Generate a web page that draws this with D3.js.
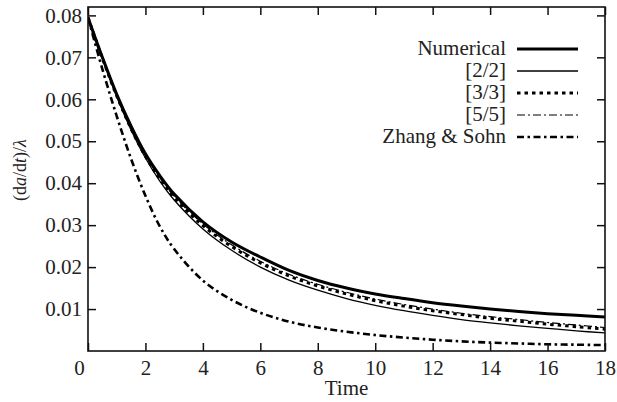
<!DOCTYPE html>
<html><head><meta charset="utf-8">
<script src="https://cdn.jsdelivr.net/npm/d3@7"></script>
<style>
body{margin:0;background:#fff;}
svg{display:block;}
</style></head>
<body>
<script>
const time = [0,0.5,1,1.5,2,2.5,3,4,5,6,7,8,9,10,11,12,13,14,15,16,17,18];
const numerical = [0.0795,0.0700,0.0612,0.0536,0.0470,0.0418,0.0374,0.0308,0.0260,0.0224,0.0192,0.0168,0.0150,0.0136,0.0125,0.0115,0.0107,0.0100,0.0094,0.0089,0.0085,0.0081];
const pade22 = [0.0795,0.0697,0.0606,0.0527,0.0460,0.0405,0.0360,0.0291,0.0240,0.0200,0.0169,0.0145,0.0125,0.0109,0.0096,0.0085,0.0075,0.0067,0.0060,0.0054,0.0048,0.0043];
const pade33 = [0.0795,0.0698,0.0608,0.0530,0.0464,0.0410,0.0366,0.0299,0.0249,0.0210,0.0179,0.0155,0.0136,0.0120,0.0107,0.0096,0.0087,0.0078,0.0071,0.0064,0.0058,0.0052];
const pade55 = [0.0795,0.0698,0.0609,0.0532,0.0466,0.0413,0.0369,0.0303,0.0253,0.0214,0.0183,0.0159,0.0140,0.0124,0.0111,0.0100,0.0090,0.0082,0.0075,0.0068,0.0062,0.0056];
const zhangSohn = [0.0795,0.0672,0.0560,0.0458,0.0370,0.0297,0.0243,0.0168,0.0122,0.0091,0.0070,0.0056,0.0046,0.0038,0.0032,0.0027,0.0023,0.0020,0.0018,0.0016,0.0015,0.0014];
const seriesNames = ["Numerical","[2/2]","[3/3]","[5/5]","Zhang & Sohn"];
const xTicks = [0,2,4,6,8,10,12,14,16,18];
const yTicks = [0.01,0.02,0.03,0.04,0.05,0.06,0.07,0.08];

const FONT="Liberation Serif, DejaVu Serif, serif";
const W=617,H=402;
const m={l:88,r:12,t:7,b:51};
const svg=d3.select("body").append("svg").attr("width",W).attr("height",H)
  .style("font-family",FONT);
const x=d3.scaleLinear().domain([0,18]).range([m.l,W-m.r]);
const y=d3.scaleLinear().domain([0,0.082]).range([H-m.b,m.t]);

const styles=[
  {w:3,dash:null},
  {w:1.3,dash:null},
  {w:3,dash:"3.5,4"},
  {w:1.2,dash:"8,3,2,3"},
  {w:2.6,dash:"7,3.5,2.5,3.5"}
];
const data=[numerical,pade22,pade33,pade55,zhangSohn];

const g=svg.append("g");
svg.append("clipPath").attr("id","c").append("rect")
  .attr("x",m.l).attr("y",m.t).attr("width",W-m.r-m.l).attr("height",H-m.b-m.t);
const line=d3.line().x((d,i)=>x(time[i])).y(d=>y(d)).curve(d3.curveCatmullRom.alpha(0.5));
data.forEach((s,k)=>{
  g.append("path").datum(s).attr("d",line).attr("fill","none")
   .attr("stroke","#000").attr("stroke-width",styles[k].w)
   .attr("stroke-dasharray",styles[k].dash).attr("clip-path","url(#c)");
});

const fs=21;
const axB=d3.axisBottom(x).tickValues(xTicks).tickSize(-8).tickPadding(9).tickFormat(d3.format("d"));
const axL=d3.axisLeft(y).tickValues(yTicks).tickSize(-8).tickPadding(6).tickFormat(d3.format(".2f"));
const axT=d3.axisTop(x).tickValues(xTicks).tickSize(-8).tickFormat("");
const axR=d3.axisRight(y).tickValues(yTicks).tickSize(-8).tickFormat("");
function styleAxis(sel){
  sel.attr("font-family",null).attr("font-size",null);
  sel.selectAll("path").remove();
  sel.selectAll("line").attr("stroke","#111").attr("stroke-width",1.5);
  sel.selectAll("text").style("font-family",FONT).style("font-size",fs+"px").attr("fill","#222");
}
const gB=svg.append("g").attr("transform",`translate(0,${H-m.b})`).call(axB).call(styleAxis);
gB.selectAll(".tick").filter(d=>d===0).select("text").attr("x",-9);
svg.append("g").attr("transform",`translate(${m.l},0)`).call(axL).call(styleAxis);
svg.append("g").attr("transform",`translate(0,${m.t})`).call(axT).call(styleAxis);
svg.append("g").attr("transform",`translate(${W-m.r},0)`).call(axR).call(styleAxis);

svg.append("rect").attr("x",m.l).attr("y",m.t).attr("width",W-m.r-m.l).attr("height",H-m.b-m.t)
  .attr("fill","none").attr("stroke","#111").attr("stroke-width",1.6);

svg.append("text").attr("x",(m.l+W-m.r)/2).attr("y",395).attr("text-anchor","middle")
  .style("font-family",FONT).style("font-size",fs+"px").attr("fill","#222").text("Time");

const yl=svg.append("text").attr("transform","translate(26,170) rotate(-90)").attr("text-anchor","middle")
  .style("font-family",FONT).style("font-size","18px").attr("fill","#222");
yl.append("tspan").text("(d");
yl.append("tspan").attr("font-style","italic").text("a");
yl.append("tspan").text("/d");
yl.append("tspan").attr("font-style","italic").text("t");
yl.append("tspan").text(")/");
yl.append("tspan").attr("font-style","italic").text("λ");

const lg=svg.append("g");
seriesNames.forEach((n,k)=>{
  const yy=49+k*22;
  lg.append("text").attr("x",506).attr("y",yy+6).attr("text-anchor","end")
    .style("font-family",FONT).style("font-size",fs+"px").attr("fill","#222").text(n);
  lg.append("line").attr("x1",517).attr("x2",578).attr("y1",yy).attr("y2",yy)
    .attr("stroke","#000").attr("stroke-width",styles[k].w).attr("stroke-dasharray",styles[k].dash);
});
</script>
</body></html>
